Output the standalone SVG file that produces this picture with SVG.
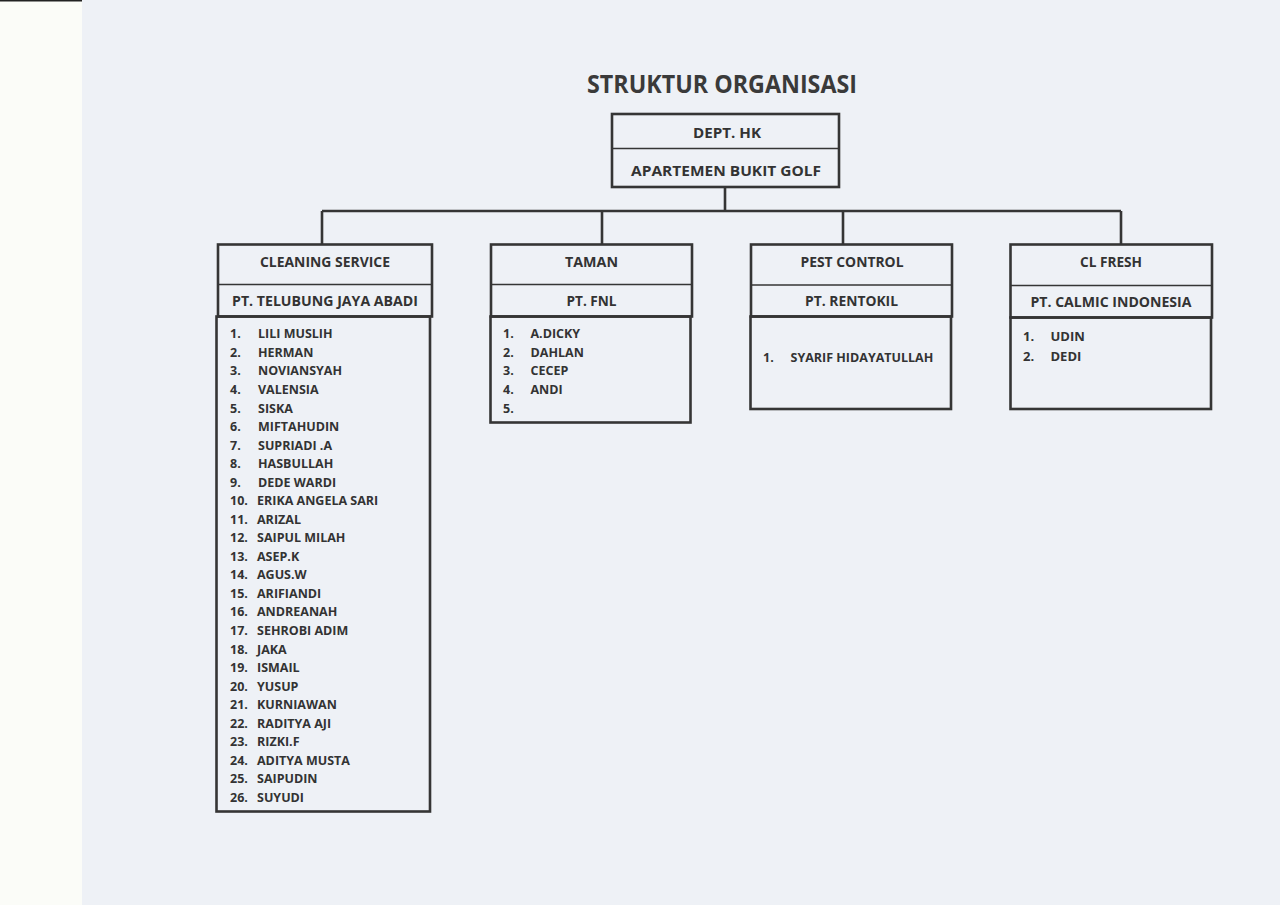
<svg xmlns="http://www.w3.org/2000/svg" width="1280" height="905" viewBox="0 0 1280 905">
<style>
.bx{fill:none;stroke:#353535;stroke-width:2.6}
.dv{fill:none;stroke:#353535;stroke-width:1.6}
.ln{fill:none;stroke:#353535;stroke-width:2.6}
text{font-family:"Open Sans","Noto Sans","Liberation Sans",sans-serif;fill:#333333;font-weight:700}
.t{font-size:25px;font-weight:700;text-anchor:middle;fill:#3a3a3a}
.h{font-size:15px;text-anchor:middle}
.l{font-size:12.5px}
</style>
<rect x="0" y="0" width="1280" height="905" fill="#eef1f6"/>
<rect x="0" y="0" width="82" height="905" fill="#fbfcf8"/>
<rect x="0" y="0" width="82" height="1.5" fill="#222"/>
<text class="t" x="722" y="93" textLength="270" lengthAdjust="spacingAndGlyphs">STRUKTUR ORGANISASI</text>
<g id="connectors">
<path class="ln" d="M725 187V211M322 211H1121M322 211V244M602 211V244M843 211V244M1121 211V244"/>
</g>
<g id="dept-hk">
<rect class="bx" x="612" y="114" width="227" height="73"/>
<line class="dv" x1="612" y1="148.5" x2="839" y2="148.5"/>
<text class="h" x="727" y="138" textLength="68" lengthAdjust="spacingAndGlyphs">DEPT. HK</text>
<text class="h" x="726" y="176" textLength="190" lengthAdjust="spacingAndGlyphs">APARTEMEN BUKIT GOLF</text>
</g>
<g id="cleaning-service">
<rect class="bx" x="218" y="244.5" width="214" height="72"/>
<line class="dv" x1="218" y1="284.5" x2="432" y2="284.5"/>
<text class="h" x="325" y="267" textLength="130" lengthAdjust="spacingAndGlyphs">CLEANING SERVICE</text>
<text class="h" x="325" y="306" textLength="186" lengthAdjust="spacingAndGlyphs">PT. TELUBUNG JAYA ABADI</text>
<rect class="bx" x="216.5" y="316.5" width="213.5" height="495"/>
<g class="l">
<text x="230" y="338.3">1.</text><text x="258" y="338.3">LILI MUSLIH</text>
<text x="230" y="356.8">2.</text><text x="258" y="356.8">HERMAN</text>
<text x="230" y="375.4">3.</text><text x="258" y="375.4">NOVIANSYAH</text>
<text x="230" y="393.9">4.</text><text x="258" y="393.9">VALENSIA</text>
<text x="230" y="412.5">5.</text><text x="258" y="412.5">SISKA</text>
<text x="230" y="431">6.</text><text x="258" y="431">MIFTAHUDIN</text>
<text x="230" y="449.5">7.</text><text x="258" y="449.5">SUPRIADI .A</text>
<text x="230" y="468.1">8.</text><text x="258" y="468.1">HASBULLAH</text>
<text x="230" y="486.6">9.</text><text x="258" y="486.6">DEDE WARDI</text>
<text x="230" y="505.2">10.</text><text x="257" y="505.2">ERIKA ANGELA SARI</text>
<text x="230" y="523.7">11.</text><text x="257" y="523.7">ARIZAL</text>
<text x="230" y="542.2">12.</text><text x="257" y="542.2">SAIPUL MILAH</text>
<text x="230" y="560.8">13.</text><text x="257" y="560.8">ASEP.K</text>
<text x="230" y="579.3">14.</text><text x="257" y="579.3">AGUS.W</text>
<text x="230" y="597.9">15.</text><text x="257" y="597.9">ARIFIANDI</text>
<text x="230" y="616.4">16.</text><text x="257" y="616.4">ANDREANAH</text>
<text x="230" y="634.9">17.</text><text x="257" y="634.9">SEHROBI ADIM</text>
<text x="230" y="653.5">18.</text><text x="257" y="653.5">JAKA</text>
<text x="230" y="672">19.</text><text x="257" y="672">ISMAIL</text>
<text x="230" y="690.6">20.</text><text x="257" y="690.6">YUSUP</text>
<text x="230" y="709.1">21.</text><text x="257" y="709.1">KURNIAWAN</text>
<text x="230" y="727.6">22.</text><text x="257" y="727.6">RADITYA AJI</text>
<text x="230" y="746.2">23.</text><text x="257" y="746.2">RIZKI.F</text>
<text x="230" y="764.7">24.</text><text x="257" y="764.7">ADITYA MUSTA</text>
<text x="230" y="783.3">25.</text><text x="257" y="783.3">SAIPUDIN</text>
<text x="230" y="801.8">26.</text><text x="257" y="801.8">SUYUDI</text>
</g>
</g>
<g id="taman">
<rect class="bx" x="491" y="244.5" width="201" height="72"/>
<line class="dv" x1="491" y1="284.5" x2="692" y2="284.5"/>
<text class="h" x="591.5" y="267" textLength="53" lengthAdjust="spacingAndGlyphs">TAMAN</text>
<text class="h" x="591.5" y="306" textLength="50" lengthAdjust="spacingAndGlyphs">PT. FNL</text>
<rect class="bx" x="490.5" y="316.5" width="200" height="106"/>
<g class="l">
<text x="503" y="338.3">1.</text><text x="530.5" y="338.3">A.DICKY</text>
<text x="503" y="356.8">2.</text><text x="530.5" y="356.8">DAHLAN</text>
<text x="503" y="375.4">3.</text><text x="530.5" y="375.4">CECEP</text>
<text x="503" y="393.9">4.</text><text x="530.5" y="393.9">ANDI</text>
<text x="503" y="412.5">5.</text>
</g>
</g>
<g id="pest-control">
<rect class="bx" x="751" y="244.5" width="201" height="72"/>
<line class="dv" x1="751" y1="285" x2="952" y2="285"/>
<text class="h" x="852" y="267" textLength="103" lengthAdjust="spacingAndGlyphs">PEST CONTROL</text>
<text class="h" x="851.5" y="306" textLength="93" lengthAdjust="spacingAndGlyphs">PT. RENTOKIL</text>
<rect class="bx" x="750.5" y="316.5" width="200.5" height="92.5"/>
<g class="l">
<text x="763" y="361.7">1.</text><text x="790.5" y="361.7">SYARIF HIDAYATULLAH</text>
</g>
</g>
<g id="cl-fresh">
<rect class="bx" x="1010.5" y="244.5" width="201.5" height="73"/>
<line class="dv" x1="1010.5" y1="285.5" x2="1212" y2="285.5"/>
<text class="h" x="1111" y="267" textLength="62" lengthAdjust="spacingAndGlyphs">CL FRESH</text>
<text class="h" x="1111" y="306.5" textLength="161" lengthAdjust="spacingAndGlyphs">PT. CALMIC INDONESIA</text>
<rect class="bx" x="1010.5" y="317.5" width="200.5" height="91.5"/>
<g class="l" style="font-size:13px">
<text x="1023" y="341">1.</text><text x="1050.5" y="341">UDIN</text>
<text x="1023" y="361">2.</text><text x="1050.5" y="361">DEDI</text>
</g>
</g>
</svg>
